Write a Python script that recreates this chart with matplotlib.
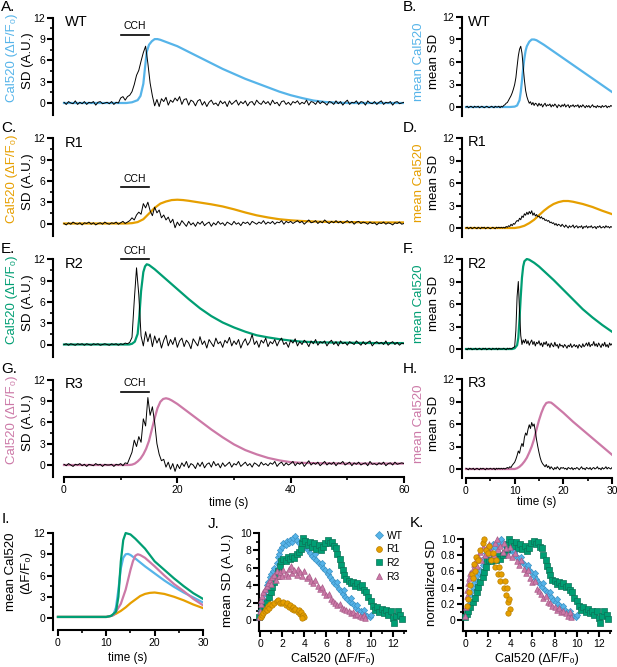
import numpy as np
import matplotlib.pyplot as plt
from matplotlib.lines import Line2D

plt.rcParams['font.family'] = ['Liberation Sans', 'DejaVu Sans']

BLUE, ORANGE, GREEN, PINK = '#56B4E9', '#E69F00', '#009E73', '#CC79A7'
W, H = 617, 667

# ---------------- single cell traces (0-60 s) ----------------
# Cal520 (dF/F0), (time, value) points
ca_wt_cell = [(0, 0), (11, 0), (12, 0.1), (13, 0.4), (13.5, 1.0), (14, 2.7), (14.3, 5.0), (14.6, 7.2),
              (15, 8.2), (15.5, 8.7), (16, 9.0), (16.5, 9.0), (17, 8.9), (18, 8.6), (20, 8.0), (22, 7.2),
              (24, 6.4), (26, 5.6), (28, 4.8), (30, 4.1), (32, 3.4), (34, 2.8), (36, 2.2), (38, 1.6),
              (40, 1.1), (42, 0.7), (44, 0.35), (46, 0.15), (48, 0.05), (50, 0.0), (60, 0.0)]
ca_r1_cell = [(0, 0), (11, 0), (12, 0.05), (13, 0.2), (14, 0.6), (15, 1.4), (16, 2.2), (17, 2.8), (18, 3.1),
              (19, 3.3), (20, 3.35), (21, 3.3), (22, 3.2), (24, 2.95), (26, 2.7), (28, 2.4), (30, 2.0),
              (32, 1.55), (34, 1.15), (36, 0.85), (38, 0.6), (40, 0.45), (42, 0.35), (45, 0.25), (50, 0.2),
              (55, 0.15), (60, 0.15)]
ca_r2_cell = [(0, 0), (11.5, 0), (12, 0.1), (12.5, 0.4), (13, 1.5), (13.3, 4.0), (13.6, 7.5), (14, 10.2),
              (14.3, 11.0), (14.6, 11.3), (15, 11.2), (16, 10.6), (17, 9.9), (18, 9.2), (20, 7.8), (22, 6.4),
              (24, 5.1), (26, 4.0), (28, 3.1), (30, 2.4), (32, 1.8), (34, 1.3), (36, 1.0), (38, 0.75),
              (40, 0.55), (42, 0.4), (45, 0.3), (50, 0.25), (55, 0.2), (60, 0.2)]
ca_r3_cell = [(0, 0), (11.5, 0), (12, 0.05), (12.5, 0.2), (13, 0.5), (13.5, 0.9), (14, 1.5), (14.5, 2.3),
              (15, 3.4), (15.5, 5.0), (16, 6.6), (16.5, 8.0), (17, 8.9), (17.5, 9.3), (18, 9.4), (18.5, 9.3),
              (19, 9.1), (20, 8.6), (22, 7.4), (24, 6.2), (26, 5.0), (28, 3.9), (30, 2.9), (32, 2.1),
              (34, 1.5), (36, 1.0), (38, 0.65), (40, 0.4), (42, 0.3), (45, 0.25), (50, 0.2), (60, 0.2)]

# SD (A.U.), one sample every 0.4 s
sd_wt_cell = [0.1, -0.2, 0.2, 0.0, -0.1, 0.3, -0.2, 0.1, -0.1, 0.2,
              -0.2, 0.1, 0.0, 0.2, -0.3, 0.1, 0.2, -0.1, 0.0, 0.1,
              -0.1, 0.2, -0.2, 0.1, 0.0, 0.7, 0.9, 0.4, 0.9, 1.1,
              1.6, 2.6, 3.9, 4.6, 5.9, 7.1, 8.0, 5.6, 2.8, 1.0,
              -0.4, 0.5, -0.5, 0.6, 0.2, 0.8, -0.3, 0.4, 0.1, 0.7,
              0.3, 0.9, -0.2, 0.5, 0.6, -0.3, 0.4, 0.2, -0.4, 0.3,
              0.5, -0.3, 0.2, -0.5, 0.1, 0.4, -0.2, 0.0, -0.4, 0.3,
              -0.1, 0.2, -0.5, 0.3, -0.2, 0.1, 0.4, -0.3, 0.2, -0.1,
              0.3, -0.4, 0.1, 0.2, -0.3, 0.4, 0.0, -0.2, 0.3, -0.1,
              0.2, -0.3, 0.4, -0.1, 0.1, -0.4, 0.2, 0.3, -0.2, 0.1,
              -0.3, 0.2, 0.0, 0.3, -0.2, 0.1, -0.1, 0.4, -0.3, 0.2,
              0.1, -0.2, 0.3, -0.1, 0.2, 0.0, -0.3, 0.2, 0.1, -0.2,
              0.3, -0.1, 0.2, -0.3, 0.1, 0.4, -0.2, 0.1, 0.0, 0.3,
              -0.2, 0.2, 0.1, -0.3, 0.3, 0.0, -0.1, 0.2, -0.2, 0.1,
              0.3, -0.2, 0.1, 0.0, 0.2, -0.3, 0.1, 0.2, -0.1, 0.0,
              0.1]
sd_r1_cell = [0.0, -0.2, 0.1, -0.1, 0.2, 0.0, -0.1, 0.1, -0.2, 0.1,
              0.0, 0.2, -0.1, 0.1, -0.2, 0.0, 0.1, -0.1, 0.2, 0.0,
              -0.1, 0.1, 0.0, 0.2, -0.1, 0.1, 0.3, 0.0, 0.2, 0.4,
              0.8, 0.5, 1.2, 1.6, 1.3, 2.8, 2.2, 3.0, 1.8, 1.1,
              2.3, 1.5, 1.9, 0.8, 1.2, 0.5, 0.9, 0.1, 0.6, -0.6,
              0.2, -0.3, 0.4, 0.0, -0.4, 0.3, -0.2, 0.1, -0.4, 0.2,
              -0.1, 0.3, -0.3, 0.0, 0.2, -0.4, 0.1, -0.2, 0.3, -0.1,
              0.1, -0.3, 0.2, 0.0, -0.2, 0.3, -0.1, 0.1, -0.3, 0.2,
              0.0, 0.2, -0.2, 0.3, 0.1, -0.1, 0.2, 0.0, 0.4, -0.1,
              0.2, 0.0, 0.3, -0.1, 0.2, 0.1, 0.4, -0.1, 0.3, 0.1,
              0.3, 0.0, 0.2, 0.4, 0.1, 0.3, -0.1, 0.2, 0.5, 0.1,
              0.2, 0.4, 0.0, 0.3, 0.1, 0.5, 0.2, 0.0, 0.3, 0.1,
              0.4, 0.1, 0.3, 0.0, 0.2, 0.4, 0.1, 0.3, -0.1, 0.2,
              0.3, 0.0, 0.2, 0.1, -0.1, 0.2, 0.0, 0.1, -0.2, 0.1,
              0.0, 0.2, -0.1, 0.1, 0.0, -0.2, 0.1, 0.0, 0.2, -0.1,
              0.0]
sd_r2_cell = [0.0, 0.1, -0.1, 0.1, 0.0, -0.1, 0.1, 0.0, 0.1, -0.1,
              0.1, 0.0, -0.1, 0.1, 0.0, 0.1, -0.1, 0.0, 0.1, 0.0,
              -0.1, 0.1, 0.0, 0.1, -0.1, 0.1, 0.0, 0.2, 0.1, 0.3,
              1.0, 6.2, 10.8, 7.0, 1.2, -0.2, 1.8, 0.4, 1.5, -0.3,
              1.2, 0.2, 0.9, -0.5, 0.6, 1.3, -0.2, 0.7, 0.0, 1.0,
              -0.4, 0.5, 0.9, -0.3, 0.6, 0.2, -0.6, 0.8, 0.3, -0.2,
              1.1, 0.0, 0.5, -0.5, 0.7, 0.2, -0.3, 0.9, 0.1, 0.4,
              -0.4, 0.6, 0.2, 1.0, -0.2, 0.5, 0.0, 0.7, -0.5, 0.3,
              0.8, -0.1, 0.4, 1.4, 0.0, 0.5, -0.4, 0.6, 0.2, 0.9,
              -0.3, 0.4, 0.1, 0.7, -0.2, 0.5, 0.9, 0.0, 0.3, -0.4,
              0.6, 0.2, 0.8, -0.2, 0.4, 0.0, 0.6, 0.3, -0.3, 0.5,
              0.1, 0.7, -0.1, 0.4, 0.2, 0.5, -0.2, 0.3, 0.6, 0.0,
              0.4, -0.2, 0.5, 0.1, 0.3, -0.1, 0.4, 0.2, 0.0, 0.5,
              0.2, -0.1, 0.4, 0.0, 0.3, 0.5, -0.2, 0.2, 0.4, 0.1,
              0.3, 0.0, 0.5, -0.1, 0.2, 0.4, 0.0, 0.3, -0.1, 0.2,
              0.1]
sd_r3_cell = [0.1, -0.1, 0.2, 0.0, -0.2, 0.1, 0.0, 0.2, -0.1, 0.1,
              -0.2, 0.1, 0.0, -0.1, 0.2, 0.0, 0.1, -0.2, 0.1, 0.0,
              0.0, 0.1, -0.2, 0.1, 0.0, 0.2, -0.1, 0.3, 0.2, 1.0,
              1.8, 3.5, 2.6, 4.0, 3.2, 6.5, 5.5, 9.5, 7.0, 8.2,
              6.0, 3.0, 1.5, 0.6, 0.8, -0.3, 0.4, -0.6, 0.2, -0.9,
              0.1, -0.5, 0.3, -0.2, 0.5, -0.4, 0.2, 0.0, -0.5, 0.3,
              -0.2, 0.4, -0.4, 0.1, 0.3, -0.3, 0.5, -0.1, 0.2, -0.4,
              0.3, -0.2, 0.1, 0.4, -0.3, 0.2, 0.0, 0.5, -0.2, 0.1,
              0.4, -0.1, 0.2, -0.3, 0.3, 0.1, -0.2, 0.4, 0.0, 0.2,
              -0.1, 0.3, 0.1, 0.5, -0.2, 0.2, 0.4, -0.1, 0.3, 0.0,
              0.2, 0.5, -0.1, 0.3, 0.1, 0.4, -0.2, 0.2, 0.6, 0.0,
              0.3, 0.1, 0.4, -0.1, 0.2, 0.5, 0.0, 0.3, 0.1, 0.4,
              -0.1, 0.3, 0.2, 0.5, 0.0, 0.2, 0.4, -0.1, 0.3, 0.1,
              0.4, 0.0, 0.2, 0.3, -0.1, 0.5, 0.1, 0.2, 0.0, 0.3,
              0.1, 0.4, -0.1, 0.2, 0.3, 0.0, 0.4, 0.1, 0.2, 0.3,
              0.2]

# ---------------- mean traces (0-30 s) ----------------
ca_wt_mean = [(0, 0), (9, 0), (10, 0.05), (10.5, 0.2), (11, 0.9), (11.25, 2.0), (11.5, 3.5), (11.75, 5.2),
              (12, 6.5), (12.25, 7.5), (12.5, 8.1), (13, 8.7), (13.5, 9.0), (14, 9.0), (14.5, 8.9), (15, 8.7),
              (16, 8.3), (18, 7.4), (20, 6.5), (22, 5.6), (24, 4.7), (26, 3.8), (28, 2.9), (30, 2.0)]
ca_r1_mean = [(0, 0), (10, 0), (11, 0.1), (12, 0.3), (13, 0.65), (14, 1.1), (15, 1.7), (16, 2.3), (17, 2.8),
              (18, 3.2), (19, 3.45), (20, 3.6), (21, 3.6), (22, 3.5), (24, 3.2), (26, 2.8), (28, 2.3), (30, 1.85)]
ca_r2_mean = [(0, 0), (9.5, 0), (10, 0.1), (10.5, 0.5), (10.75, 1.5), (11, 4.0), (11.25, 7.0), (11.5, 9.5),
              (11.75, 11.0), (12, 11.7), (12.5, 12.0), (13, 11.9), (14, 11.5), (15, 11.0), (16, 10.4),
              (18, 9.2), (20, 7.9), (22, 6.6), (24, 5.3), (26, 4.2), (28, 3.2), (30, 2.3)]
ca_r3_mean = [(0, 0), (10, 0), (10.5, 0.1), (11, 0.3), (11.5, 0.6), (12, 1.0), (12.5, 1.5), (13, 2.2),
              (13.5, 3.0), (14, 4.0), (14.5, 5.3), (15, 6.5), (15.5, 7.5), (16, 8.3), (16.5, 8.8), (17, 8.9),
              (17.5, 8.85), (18, 8.6), (20, 7.5), (22, 6.3), (24, 5.2), (26, 4.1), (28, 3.0), (30, 1.9)]

# mean SD, one sample every 0.25 s
sd_wt_mean = [0.0, 0.1, -0.1, 0.0, 0.1, 0.0, -0.1, 0.1, 0.0, 0.0,
              0.1, -0.1, 0.0, 0.1, 0.0, -0.1, 0.0, 0.1, 0.0, -0.1,
              0.0, 0.1, 0.0, -0.1, 0.1, 0.0, 0.0, 0.1, -0.1, 0.1,
              0.0, 0.2, 0.3, 0.5, 0.6, 0.9, 1.2, 1.5, 1.9, 2.4,
              3.0, 3.9, 5.4, 6.8, 7.7, 8.1, 7.2, 5.4, 3.6, 2.2,
              1.4, 0.9, 0.5, 0.7, 0.3, 0.6, 0.2, 0.5, 0.4, 0.1,
              0.5, 0.2, 0.4, 0.0, 0.3, 0.5, 0.1, 0.3, 0.2, 0.4,
              0.0, 0.3, 0.1, 0.4, 0.2, -0.1, 0.3, 0.2, 0.0, 0.3,
              0.1, 0.4, 0.0, 0.2, 0.3, -0.1, 0.2, 0.1, 0.3, 0.0,
              0.2, 0.1, 0.3, -0.1, 0.2, 0.0, 0.3, 0.1, -0.1, 0.2,
              0.0, 0.2, -0.1, 0.1, 0.3, 0.0, 0.1, -0.1, 0.2, 0.0,
              0.1, -0.1, 0.2, 0.0, 0.1, 0.2, -0.1, 0.1, 0.0, 0.2,
              0.1]
sd_r1_mean = [0.0, 0.1, -0.1, 0.0, 0.1, -0.1, 0.0, 0.1, 0.0, -0.1,
              0.1, 0.0, -0.1, 0.1, 0.0, 0.1, -0.1, 0.0, 0.1, 0.0,
              -0.1, 0.0, 0.1, 0.0, -0.1, 0.1, 0.0, 0.1, 0.0, 0.1,
              0.0, 0.1, 0.0, 0.2, 0.1, 0.3, 0.2, 0.5, 0.3, 0.6,
              0.5, 0.8, 1.0, 0.9, 1.3, 1.1, 1.6, 1.4, 1.9, 1.7,
              2.1, 1.8, 2.2, 1.9, 2.3, 1.7, 2.0, 1.6, 1.8, 1.5,
              1.6, 1.3, 1.5, 1.2, 1.3, 1.0, 1.1, 0.9, 1.0, 0.7,
              0.8, 0.6, 0.7, 0.4, 0.6, 0.3, 0.5, 0.4, 0.2, 0.5,
              0.3, 0.1, 0.4, 0.2, 0.0, 0.3, 0.1, 0.2, 0.4, 0.0,
              0.2, 0.3, 0.0, 0.2, 0.1, 0.3, -0.1, 0.2, 0.1, 0.3,
              0.0, 0.2, 0.1, 0.3, 0.0, 0.1, 0.2, -0.1, 0.2, 0.1,
              0.3, 0.0, 0.1, 0.2, 0.0, 0.3, 0.1, 0.2, 0.0, 0.2,
              0.1]
sd_r2_mean = [0.0, -0.1, 0.1, 0.0, 0.1, -0.1, 0.0, 0.0, 0.1, -0.1,
              0.0, 0.1, 0.0, -0.1, 0.1, 0.0, 0.1, -0.1, 0.0, 0.1,
              0.0, -0.1, 0.1, 0.0, 0.0, 0.1, -0.1, 0.1, 0.0, 0.0,
              0.0, 0.1, 0.0, -0.1, 0.1, 0.0, 0.1, 0.0, 0.1, 0.2,
              0.3, 2.5, 7.0, 9.0, 5.0, 1.8, 0.6, 1.2, 0.8, 1.3,
              0.7, 1.1, 0.5, 0.9, 1.2, 0.6, 1.0, 0.4, 0.9, 0.7,
              1.1, 0.5, 0.8, 0.3, 0.9, 0.6, 1.0, 0.4, 0.7, 0.2,
              0.8, 0.5, 0.3, 0.9, 0.4, 0.6, 0.1, 0.7, 0.4, 0.5,
              0.2, 0.6, 0.4, 0.1, 0.5, 0.3, 0.7, 0.2, 0.4, 0.6,
              0.3, 0.5, 0.1, 0.6, 0.4, 0.2, 0.7, 0.3, 0.5, 0.8,
              0.4, 0.9, 0.3, 0.6, 0.5, 1.0, 0.4, 0.7, 0.3, 0.8,
              0.5, 0.2, 0.7, 0.4, 0.9, 0.3, 0.6, 0.2, 0.8, 0.5,
              0.7]
sd_r3_mean = [0.1, 0.0, -0.1, 0.1, 0.0, 0.0, 0.1, -0.1, 0.0, 0.1,
              0.0, -0.1, 0.1, 0.0, 0.1, 0.0, -0.1, 0.1, 0.0, 0.0,
              0.1, 0.0, 0.0, 0.1, -0.1, 0.1, 0.0, 0.1, 0.0, 0.1,
              0.0, 0.1, 0.0, 0.1, 0.2, 0.1, 0.3, 0.2, 0.5, 0.7,
              0.9, 1.3, 1.8, 2.4, 2.1, 2.9, 3.4, 3.0, 4.2, 4.8,
              4.5, 5.3, 5.9, 5.4, 6.2, 5.7, 6.0, 5.0, 3.9, 3.0,
              2.2, 1.5, 1.0, 0.7, 0.5, 0.3, 0.6, 0.2, 0.4, 0.0,
              0.3, 0.1, -0.1, 0.2, 0.0, 0.3, 0.1, -0.1, 0.2, 0.1,
              0.2, 0.0, 0.1, -0.1, 0.2, 0.1, 0.0, 0.2, -0.1, 0.1,
              0.0, 0.2, 0.1, -0.1, 0.1, 0.3, 0.0, 0.1, -0.1, 0.2,
              0.1, 0.0, 0.2, -0.1, 0.1, 0.2, 0.0, 0.1, 0.3, 0.0,
              0.1, -0.1, 0.2, 0.0, 0.1, 0.3, 0.0, 0.2, 0.1, 0.0,
              0.2]

# ---------------- panel I: overlaid mean Cal520 ----------------
ca_i_wt = [(0, 0.15), (10, 0.15), (11, 0.3), (11.5, 0.5), (12, 1.5), (12.5, 4.0), (13, 7.0), (13.5, 8.5),
           (14, 9.0), (14.5, 9.05), (15, 8.9), (16, 8.4), (18, 7.3), (20, 6.3), (22, 5.3), (24, 4.4),
           (26, 3.6), (28, 2.9), (30, 2.2)]
ca_i_r1 = [(0, 0.15), (10, 0.15), (11, 0.3), (12, 0.6), (13, 1.0), (14, 1.5), (15, 2.1), (16, 2.6), (17, 3.1),
           (18, 3.4), (19, 3.55), (20, 3.6), (21, 3.5), (22, 3.4), (24, 3.0), (26, 2.5), (28, 1.9), (30, 1.4)]
ca_i_r2 = [(0, 0.15), (10, 0.15), (11, 0.3), (12, 0.9), (12.5, 3.0), (13, 8.0), (13.5, 11.0), (14, 12.0),
           (15, 11.8), (16, 11.2), (18, 9.8), (20, 8.0), (22, 6.8), (24, 5.6), (26, 4.5), (28, 3.5), (30, 2.7)]
ca_i_r3 = [(0, 0.15), (10, 0.15), (11, 0.3), (11.5, 0.4), (12, 0.9), (13, 2.0), (14, 4.0), (15, 6.8),
           (15.5, 8.0), (16, 8.8), (16.5, 9.0), (17, 8.9), (18, 8.5), (20, 7.3), (22, 6.0), (24, 4.8),
           (26, 3.8), (28, 2.7), (30, 1.8)]

# ---------------- panel J/K: mean SD vs Cal520 ----------------
sc_wt = [(0.0, 0.6), (0.1, 1.2), (0.2, 1.8), (0.3, 2.4), (0.35, 3.0), (0.5, 3.5), (0.6, 4.0), (0.7, 4.4),
         (0.9, 4.9), (1.0, 5.3), (1.2, 5.6), (1.3, 6.0), (1.5, 6.6), (1.6, 7.2), (1.7, 7.6), (1.8, 8.0),
         (2.0, 8.4), (2.1, 8.8), (2.3, 8.6), (2.4, 9.1), (2.6, 8.8), (2.7, 9.2), (2.9, 9.0), (3.0, 9.4),
         (3.2, 9.7), (3.3, 9.2), (3.5, 8.9), (3.7, 8.6), (3.9, 8.3), (4.1, 8.5), (4.3, 8.0), (4.5, 7.7),
         (4.7, 7.4), (4.9, 7.1), (5.1, 6.9), (5.3, 6.6), (5.5, 6.3), (5.7, 6.0), (5.9, 5.7), (6.1, 5.3),
         (6.3, 4.9), (6.5, 4.6), (6.7, 4.3), (6.9, 4.0), (7.1, 3.6), (7.3, 3.3), (7.5, 3.0), (7.7, 2.7),
         (7.9, 2.4), (8.1, 2.1), (8.3, 1.9), (8.5, 1.7), (8.7, 1.4), (8.9, 1.2), (9.1, 1.0), (9.3, 0.8),
         (9.5, 0.6), (9.7, 0.5), (9.9, 0.4), (10.0, 0.6), (4.4, 8.3), (5.0, 7.6), (5.6, 6.6), (6.2, 5.6),
         (7.0, 4.4), (7.6, 3.4), (8.2, 2.5), (8.8, 1.7), (9.4, 1.1)]
sc_r1 = [(0.1, 0.4), (0.2, 0.6), (0.3, 0.8), (0.4, 1.0), (0.5, 1.3), (0.6, 1.2), (0.7, 1.6), (0.8, 1.4),
         (0.9, 1.8), (1.1, 1.7), (1.3, 2.0), (1.5, 2.2), (1.6, 2.3), (1.8, 2.0), (2.0, 1.9), (2.1, 2.1),
         (2.3, 1.7), (2.4, 1.9), (2.6, 1.5), (2.7, 1.7), (2.9, 1.3), (3.0, 1.5), (3.1, 1.1), (3.2, 1.3),
         (3.4, 0.9), (3.5, 1.1), (3.6, 0.7), (3.7, 0.9), (3.8, 0.5), (3.9, 0.6), (4.0, 0.3), (3.8, 0.2)]
sc_r2 = [(-0.1, 0.3), (0.1, 0.7), (0.2, 1.1), (0.4, 1.5), (0.6, 2.1), (0.8, 2.6), (1.0, 3.2), (1.1, 3.8),
         (1.3, 4.4), (1.5, 5.0), (1.6, 5.6), (1.8, 6.2), (1.9, 6.8), (2.1, 7.0), (2.3, 6.8), (2.5, 7.2),
         (2.7, 7.0), (2.9, 7.4), (3.1, 7.1), (3.3, 7.6), (3.5, 7.8), (3.7, 8.2), (3.8, 8.8), (3.9, 9.4),
         (4.1, 9.1), (4.3, 8.6), (4.5, 9.0), (4.7, 8.4), (4.9, 8.8), (5.1, 8.2), (5.3, 8.6), (5.5, 8.0),
         (5.7, 8.4), (5.9, 8.9), (6.1, 9.2), (6.3, 8.8), (6.5, 9.0), (6.7, 8.5), (6.9, 8.3), (7.0, 7.6),
         (7.2, 7.0), (7.3, 6.3), (7.5, 5.8), (7.6, 5.2), (7.8, 4.7), (8.0, 4.5), (8.2, 4.2), (8.4, 4.4),
         (8.6, 3.9), (8.8, 4.3), (9.0, 3.8), (9.2, 4.0), (9.4, 3.5), (9.6, 3.2), (9.8, 2.6), (10.0, 2.2),
         (10.2, 1.6), (10.4, 1.2), (10.6, 1.5), (10.8, 0.9), (11.0, 1.3), (11.2, 0.8), (11.4, 1.1),
         (11.6, 0.6), (11.8, 1.0), (12.0, 0.2), (12.1, -0.3), (12.3, 0.5), (12.5, 1.0), (12.7, 0.6),
         (12.8, 0.1)]
sc_r3 = [(-0.1, 0.3), (0.0, 1.0), (0.05, 1.8), (0.1, 2.3), (0.2, 2.8), (0.3, 3.2), (0.4, 3.6), (0.6, 3.9),
         (0.7, 4.3), (0.9, 4.6), (1.0, 4.1), (1.1, 4.9), (1.3, 5.2), (1.4, 4.6), (1.5, 5.6), (1.7, 5.0),
         (1.8, 5.5), (2.0, 5.1), (2.1, 5.8), (2.3, 5.3), (2.5, 5.0), (2.6, 5.9), (2.8, 6.2), (2.9, 5.4),
         (3.1, 5.7), (3.3, 5.2), (3.4, 5.9), (3.6, 5.5), (3.8, 5.0), (4.0, 5.6), (4.2, 4.8), (4.4, 5.1),
         (4.6, 4.5), (4.8, 4.2), (5.0, 4.6), (5.2, 3.9), (5.4, 3.6), (5.6, 3.8), (5.8, 3.2), (6.0, 2.9),
         (6.2, 3.0), (6.4, 2.4), (6.6, 2.2), (6.8, 2.0), (7.0, 1.7), (7.2, 1.8), (7.4, 1.4), (7.6, 1.3),
         (7.8, 1.1), (8.0, 1.0), (8.2, 0.8), (8.4, 0.9), (8.6, 0.6), (8.8, 0.7), (9.0, 0.5), (9.2, 0.3),
         (9.4, 0.6), (9.5, 0.2)]

groups = ['WT', 'R1', 'R2', 'R3']
colors = [BLUE, ORANGE, GREEN, PINK]
edges = ['#3d93c4', '#b97f00', '#0b7458', '#a85a88']
markers = ['D', 'o', 's', '^']
msizes = [10, 15, 13, 16]


fig = plt.figure(figsize=(W / 100, H / 100), dpi=100)


def add_ax(l, t, r, b):
    return fig.add_axes([l / W, 1 - b / H, (r - l) / W, (b - t) / H])


def ftext(x, y, s, **kw):
    fig.text(x / W, 1 - y / H, s, **kw)


def style(ax, show_x=True):
    for s in ['top', 'right']:
        ax.spines[s].set_visible(False)
    ax.spines['left'].set_linewidth(1.5)
    ax.spines['bottom'].set_linewidth(1.5)
    ax.tick_params(which='major', length=4, width=1.5, labelsize=7.5, pad=1.5)
    ax.tick_params(which='minor', length=2.5, width=1.2)
    if not show_x:
        ax.spines['bottom'].set_visible(False)
        ax.tick_params(axis='x', which='both', bottom=False, labelbottom=False)


def trace_panel(ax, ca, sd, dt, color, xlim, ylim):
    ca = np.array(ca)
    ax.plot(ca[:, 0], ca[:, 1], color=color, lw=1.6, solid_joinstyle='round')
    ax.plot(np.arange(len(sd)) * dt, sd, color='k', lw=0.7)
    ax.set_xlim(*xlim)
    ax.set_ylim(*ylim)
    ax.set_yticks([0, 3, 6, 9, 12])
    ax.set_yticks([1.5, 4.5, 7.5, 10.5], minor=True)
    ax.spines['left'].set_bounds(ylim[0], 12)


cal_label = 'Cal520 (\u0394F/F\u2080)'

# left column: single cells
left_y0 = [103, 223.5, 344.5, 465]
left_data = [(ca_wt_cell, sd_wt_cell, BLUE, 'WT', 'A.', 9.6),
             (ca_r1_cell, sd_r1_cell, ORANGE, 'R1', 'C.', 5.1),
             (ca_r2_cell, sd_r2_cell, GREEN, 'R2', 'E.', 12.0),
             (ca_r3_cell, sd_r3_cell, PINK, 'R3', 'G.', 10.3)]
u = 7.1
for k, (ca, sd, col, name, letter, cch_y) in enumerate(left_data):
    y0 = left_y0[k]
    ylim = (-1.7, 12.2)
    ax = add_ax(53, y0 - ylim[1] * u, 404, y0 - ylim[0] * u)
    trace_panel(ax, ca, sd, 0.4, col, (-1.94, 60), ylim)
    last = k == 3
    style(ax, show_x=last)
    if last:
        ax.set_xticks([0, 20, 40, 60])
        ax.set_xticks([10, 30, 50], minor=True)
        ax.spines['bottom'].set_bounds(0, 60)
        ax.set_xlabel('time (s)', fontsize=8.5, labelpad=2)
    ax.plot([10, 15], [cch_y, cch_y], color='k', lw=1.2, clip_on=False)
    ax.text(12.5, cch_y + 0.5, 'CCH', ha='center', va='bottom', fontsize=7.5, clip_on=False)
    ax.text(0.2, 11.4, name, fontsize=10.5, va='center', ha='left')
    dy = y0 - 103
    ftext(1, 7 + dy, letter, fontsize=11, va='center', ha='left')
    ftext(12, 58 + dy, cal_label, color=col, rotation=90, ha='center', va='center', fontsize=9.5)
    ftext(28, 61 + dy, 'SD (A.U.)', rotation=90, ha='center', va='center', fontsize=9.5)

# right column: means
right_y0 = [107, 228, 349, 469]
right_data = [(ca_wt_mean, sd_wt_mean, BLUE, 'WT', 'B.'),
              (ca_r1_mean, sd_r1_mean, ORANGE, 'R1', 'D.'),
              (ca_r2_mean, sd_r2_mean, GREEN, 'R2', 'F.'),
              (ca_r3_mean, sd_r3_mean, PINK, 'R3', 'H.')]
u = 7.5
for k, (ca, sd, col, name, letter) in enumerate(right_data):
    y0 = right_y0[k]
    ylim = (-1.2, 12.2)
    ax = add_ax(462, y0 - ylim[1] * u, 612, y0 - ylim[0] * u)
    trace_panel(ax, ca, sd, 0.25, col, (-0.82, 30), ylim)
    last = k == 3
    style(ax, show_x=last)
    if last:
        ax.set_xticks([0, 10, 20, 30])
        ax.set_xticks([5, 15, 25], minor=True)
        ax.spines['bottom'].set_bounds(0, 30)
        ax.set_xlabel('time (s)', fontsize=8.5, labelpad=0)
    ax.text(0.3, 11.4, name, fontsize=10.5, va='center', ha='left')
    dy = y0 - 107
    ftext(403, 7 + (left_y0[k] - 103), letter, fontsize=11, va='center', ha='left')
    ftext(419, 62 + dy, 'mean Cal520', color=col, rotation=90, ha='center', va='center', fontsize=9.5)
    ftext(434, 61 + dy, 'mean SD', rotation=90, ha='center', va='center', fontsize=9.5)

# panel I
axI = add_ax(53, 618 - 12.3 * 7.08, 203, 618 + 1.7 * 7.08)
for pts, col in zip([ca_i_wt, ca_i_r1, ca_i_r3, ca_i_r2], [BLUE, ORANGE, PINK, GREEN]):
    pts = np.array(pts)
    axI.plot(pts[:, 0], pts[:, 1], color=col, lw=1.6)
axI.set_xlim(-1.03, 30)
axI.set_ylim(-1.7, 12.3)
style(axI)
axI.set_yticks([0, 3, 6, 9, 12])
axI.set_yticks([1.5, 4.5, 7.5, 10.5], minor=True)
axI.set_xticks([0, 10, 20, 30])
axI.set_xticks([5, 15, 25], minor=True)
axI.spines['left'].set_bounds(-1.7, 12)
axI.spines['bottom'].set_bounds(0, 30)
axI.set_xlabel('time (s)', fontsize=8.5, labelpad=3)
ftext(2, 519, 'I.', fontsize=11, va='center', ha='left')
ftext(11, 572, 'mean Cal520', rotation=90, ha='center', va='center', fontsize=9.5)
ftext(26, 572, '(\u0394F/F\u2080)', rotation=90, ha='center', va='center', fontsize=9.5)

# panels J and K
sc_all = [sc_wt, sc_r1, sc_r2, sc_r3]
axJ = add_ax(259, 620 - 10.3 * 8.7, 406, 620 + 1.3 * 8.7)
axK = add_ax(463, 620 - 1.07 * 81, 611, 620 + 0.136 * 81)
for ax, norm in [(axJ, False), (axK, True)]:
    for g in [0, 2, 3, 1]:
        pts = np.array(sc_all[g])
        yv = pts[:, 1] / pts[:, 1].max() if norm else pts[:, 1]
        ax.scatter(pts[:, 0], yv, s=msizes[g], marker=markers[g], facecolor=colors[g],
                   edgecolor=edges[g], linewidth=0.5, zorder=3, clip_on=False)
    style(ax)
    ax.set_xlim(-0.1 if not norm else -0.27, 13.2 if not norm else 13.1)
    ax.set_xticks(range(0, 13, 2))
    ax.set_xticks(range(1, 14, 2), minor=True)
    ax.set_xlabel(cal_label, fontsize=9, labelpad=3)

axJ.set_ylim(-1.3, 10.3)
axJ.set_yticks(range(0, 11, 2))
axJ.set_yticks(range(1, 10, 2), minor=True)
axJ.spines['left'].set_bounds(-1.3, 10)
axJ.set_ylabel('mean SD (A.U.)', fontsize=9.5, labelpad=4)
axK.set_ylim(-0.136, 1.07)
axK.set_yticks([0, 0.2, 0.4, 0.6, 0.8, 1.0])
axK.set_yticks([0.1, 0.3, 0.5, 0.7, 0.9], minor=True)
axK.set_yticklabels(['0', '0.2', '0.4', '0.6', '0.8', '1.0'])
axK.spines['left'].set_bounds(-0.136, 1.0)
axK.set_ylabel('normalized SD', fontsize=9.5, labelpad=2)

handles = [Line2D([], [], ls='none', marker=markers[g], markersize=4.2, markerfacecolor=colors[g],
                  markeredgecolor=edges[g], markeredgewidth=0.5) for g in range(4)]
axJ.legend(handles, groups, loc='upper left', bbox_to_anchor=(0.74, 1.07), frameon=False,
           fontsize=7.5, handlelength=0.8, handletextpad=0.3, labelspacing=0.35, borderpad=0.2)

ftext(208, 524, 'J.', fontsize=11, va='center', ha='left')
ftext(410, 523, 'K.', fontsize=11, va='center', ha='left')

fig.savefig('out.png', dpi=100)
